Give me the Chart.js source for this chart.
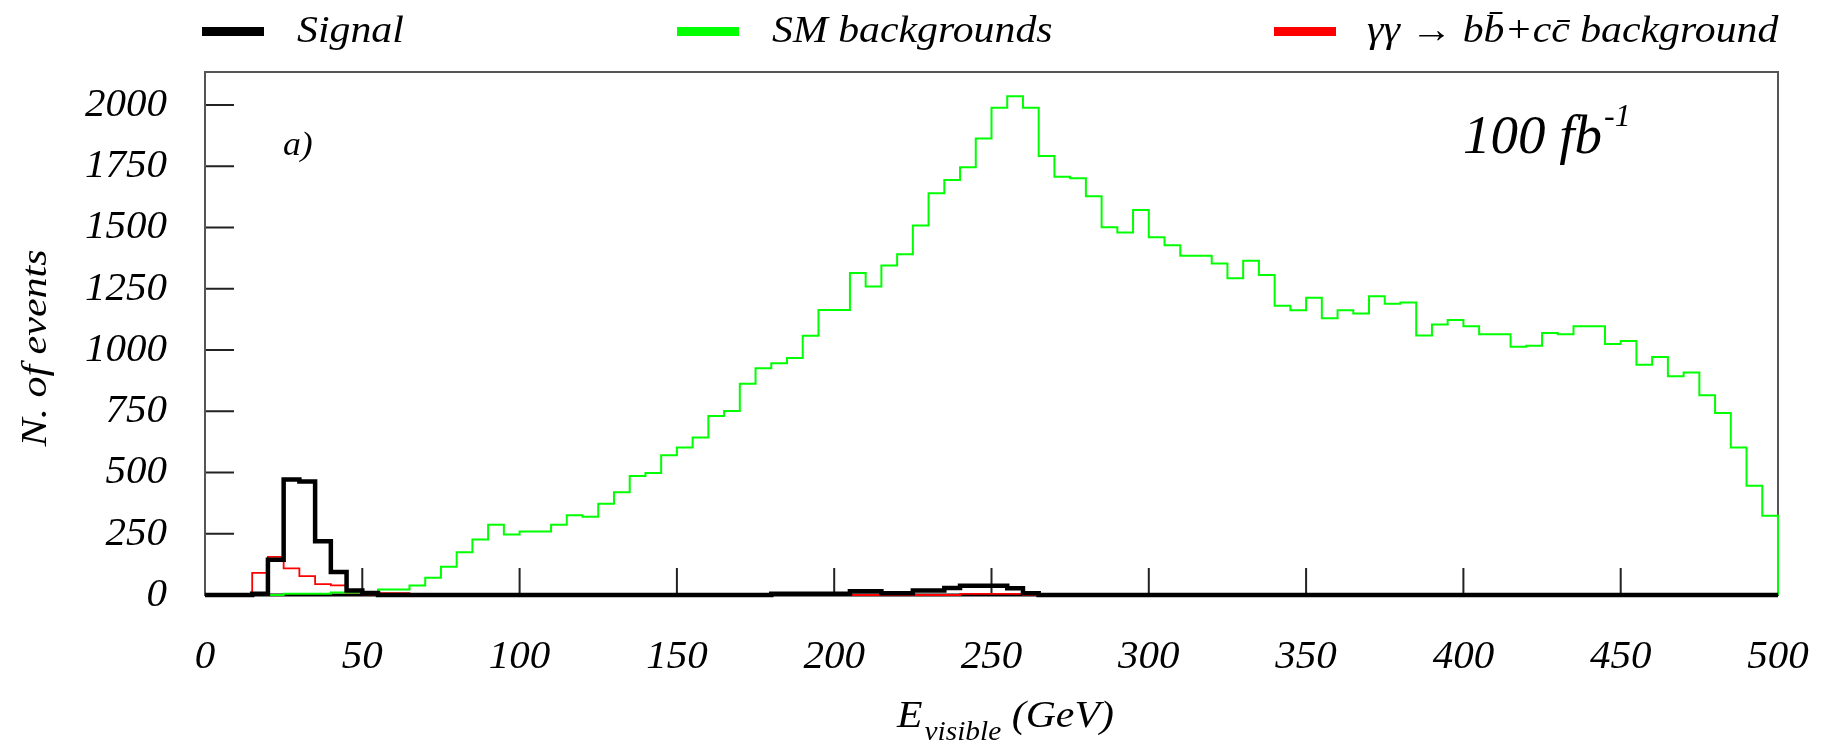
<!DOCTYPE html>
<html>
<head>
<meta charset="utf-8">
<script src="https://cdn.jsdelivr.net/npm/chart.js@4.4.1/dist/chart.umd.min.js"></script>
<style>
    html, body { margin: 0; padding: 0; background: #fff; }
    #chartContainer { width: 1829px; height: 745px; }
</style>
</head>
<body>
<div id="chartContainer"><canvas id="evoChart"></canvas></div>
<script>
// lower edges of the 5 GeV bins
const binEdges = [
    0, 5, 10, 15, 20, 25, 30, 35, 40, 45,
    50, 55, 60, 65, 70, 75, 80, 85, 90, 95,
    100, 105, 110, 115, 120, 125, 130, 135, 140, 145,
    150, 155, 160, 165, 170, 175, 180, 185, 190, 195,
    200, 205, 210, 215, 220, 225, 230, 235, 240, 245,
    250, 255, 260, 265, 270, 275, 280, 285, 290, 295,
    300, 305, 310, 315, 320, 325, 330, 335, 340, 345,
    350, 355, 360, 365, 370, 375, 380, 385, 390, 395,
    400, 405, 410, 415, 420, 425, 430, 435, 440, 445,
    450, 455, 460, 465, 470, 475, 480, 485, 490, 495
];
const xMax = 500;

const signalEvents = [
    0, 0, 0, 5, 144, 472, 463, 219, 94, 18,
    8, 0, 0, 0, 0, 0, 0, 0, 0, 0,
    0, 0, 0, 0, 0, 0, 0, 0, 0, 0,
    0, 0, 0, 0, 0, 0, 5, 5, 5, 5,
    5, 15, 15, 7, 7, 18, 18, 29, 38, 38,
    38, 28, 7, 0, 0, 0, 0, 0, 0, 0,
    0, 0, 0, 0, 0, 0, 0, 0, 0, 0,
    0, 0, 0, 0, 0, 0, 0, 0, 0, 0,
    0, 0, 0, 0, 0, 0, 0, 0, 0, 0,
    0, 0, 0, 0, 0, 0, 0, 0, 0, 0
];

const smEvents = [
    0, 0, 0, 0, 0, 5, 5, 5, 10, 10,
    8, 22, 22, 39, 70, 115, 175, 227, 287, 247,
    259, 259, 287, 326, 319, 372, 419, 486, 498, 570,
    602, 643, 731, 751, 862, 926, 946, 967, 1058, 1163,
    1163, 1314, 1259, 1345, 1391, 1508, 1640, 1694, 1746, 1864,
    1989, 2036, 1989, 1792, 1707, 1701, 1628, 1501, 1480, 1572,
    1460, 1428, 1385, 1385, 1353, 1293, 1364, 1306, 1181, 1162,
    1213, 1130, 1162, 1149, 1220, 1189, 1194, 1059, 1104, 1123,
    1097, 1064, 1064, 1013, 1018, 1070, 1064, 1097, 1097, 1025,
    1037, 940, 972, 893, 908, 815, 743, 602, 446, 324
];

const ggEvents = [
    0, 0, 0, 90, 156, 109, 77, 44, 39, 10,
    3, 8, 8, 2, 0, 0, 0, 0, 0, 0,
    0, 0, 0, 0, 0, 0, 0, 0, 0, 0,
    0, 0, 0, 0, 0, 4, 0, 0, 0, 0,
    0, 0, 0, 0, 0, 0, 0, 0, 5, 5,
    5, 5, 0, 4, 0, 0, 0, 0, 0, 0,
    0, 0, 0, 0, 0, 0, 0, 0, 0, 0,
    0, 0, 0, 0, 0, 0, 0, 0, 0, 0,
    0, 0, 0, 0, 0, 0, 0, 0, 0, 0,
    0, 0, 0, 0, 0, 0, 0, 0, 0, 0
];

const xTickStep = 50;
const yTickStep = 250;
const yMax = 2135;

const serif = "'Liberation Serif', 'Times New Roman', serif";

// histogram outline: left edge of every bin, then close at the last edge
function histPoints(values) {
    const pts = binEdges.map((e, i) => ({x: e, y: values[i]}));
    pts.push({x: xMax, y: values[values.length - 1]});
    pts.push({x: xMax, y: 0});
    return pts;
}

function stretchText(ctx, str, x, y, size, sx) {
    ctx.font = `italic ${size}px ${serif}`;
    ctx.textAlign = "left";
    ctx.textBaseline = "alphabetic";
    ctx.save();
    ctx.translate(x, y);
    ctx.scale(sx, 1);
    ctx.fillText(str, 0, 0);
    ctx.restore();
    return ctx.measureText(str).width * sx;
}

const frameAndTicks = {
    id: "frameAndTicks",
    beforeDatasetsDraw(chart) {
        const {ctx, chartArea: a, scales: {x, y}} = chart;
        ctx.save();
        ctx.strokeStyle = "#222";
        ctx.lineWidth = 2;
        ctx.beginPath();
        y.ticks.forEach(t => {
            const py = y.getPixelForValue(t.value);
            ctx.moveTo(a.left, py);
            ctx.lineTo(a.left + 29, py);
        });
        x.ticks.forEach(t => {
            const px = x.getPixelForValue(t.value);
            ctx.moveTo(px, a.bottom);
            ctx.lineTo(px, a.bottom - 27);
        });
        ctx.stroke();

        ctx.strokeStyle = "#555";
        ctx.lineWidth = 2;
        ctx.strokeRect(a.left, a.top, a.right - a.left, a.bottom - a.top);
        ctx.strokeStyle = "#000";
        ctx.lineWidth = 3;
        ctx.beginPath();
        ctx.moveTo(a.left, a.bottom);
        ctx.lineTo(a.right, a.bottom);
        ctx.stroke();
        ctx.restore();
    }
};

const labelsAndLegend = {
    id: "labelsAndLegend",
    afterDraw(chart) {
        const ctx = chart.ctx;
        ctx.save();
        ctx.fillStyle = "#000";

        // legend
        const legendPos = [[202, 297], [677, 772], [1274, 1367]];
        chart.data.datasets.forEach((ds, i) => {
            const [bx, tx] = legendPos[i];
            ctx.fillStyle = ds.borderColor;
            ctx.fillRect(bx, 27, 62, 9);
            ctx.fillStyle = "#000";
            stretchText(ctx, ds.label, tx, 42, 38, 1.1);
        });

        // x axis title with subscript
        let px = 897;
        px += stretchText(ctx, "E", px, 727, 38, 1.1) + 2;
        px += stretchText(ctx, "visible", px, 740, 28, 1.05);
        stretchText(ctx, " (GeV)", px, 727, 38, 1.1);

        // y axis title
        ctx.save();
        ctx.translate(46, 348);
        ctx.rotate(-Math.PI / 2);
        ctx.font = `italic 35px ${serif}`;
        const w = ctx.measureText("N. of events").width * 1.2;
        stretchText(ctx, "N. of events", -w / 2, 0, 35, 1.2);
        ctx.restore();

        // panel label and luminosity
        stretchText(ctx, "a)", 283, 155, 34, 1.05);
        const lw = stretchText(ctx, "100 fb", 1463, 153, 55, 1.0);
        stretchText(ctx, "-1", 1463 + lw + 2, 126, 32, 1.0);
        ctx.restore();
    }
};

const tickFont = { family: serif, size: 41, style: "italic" };

const ctx = document.getElementById("evoChart").getContext("2d");
new Chart(ctx, {
    type: "line",
    data: {
        datasets: [
            {
                label: "Signal",
                data: histPoints(signalEvents),
                borderColor: "#000000",
                borderWidth: 4.5
            },
            {
                label: "SM backgrounds",
                data: histPoints(smEvents),
                borderColor: "#00ff00",
                borderWidth: 2
            },
            {
                label: "\u03b3\u03b3 \u2192 bb\u0304+cc\u0304 background",
                data: histPoints(ggEvents),
                borderColor: "#ff0000",
                borderWidth: 1.8
            }
        ]
    },
    options: {
        responsive: true,
        maintainAspectRatio: false,
        devicePixelRatio: 1,
        animation: false,
        layout: { padding: { top: 72, right: 51, left: 0, bottom: 0 } },
        elements: {
            // "before": horizontal at the bin value, then the vertical edge
            line: { stepped: "before", tension: 0, fill: false, borderJoinStyle: "miter" },
            point: { radius: 0, hoverRadius: 0 }
        },
        datasets: { line: { clip: false } },
        plugins: {
            legend: { display: false },
            tooltip: { enabled: false }
        },
        scales: {
            x: {
                type: "linear",
                min: 0,
                max: xMax,
                grid: { display: false, drawTicks: false },
                border: { display: false },
                ticks: {
                    stepSize: xTickStep,
                    includeBounds: false,
                    maxRotation: 0,
                    padding: 38,
                    color: "#000",
                    font: tickFont,
                    callback: v => String(v)
                },
                afterFit: scale => {
                    scale.height = 150;
                    scale.paddingLeft = 0;
                    scale.paddingRight = 0;
                }
            },
            y: {
                min: 0,
                max: yMax,
                grid: { display: false, drawTicks: false },
                border: { display: false },
                ticks: {
                    stepSize: yTickStep,
                    includeBounds: false,
                    padding: 38,
                    color: "#000",
                    font: tickFont,
                    callback: v => String(v)
                },
                afterFit: scale => {
                    scale.width = 205;
                    scale.paddingTop = 0;
                    scale.paddingBottom = 0;
                }
            }
        }
    },
    plugins: [frameAndTicks, labelsAndLegend]
});
</script>
</body>
</html>
